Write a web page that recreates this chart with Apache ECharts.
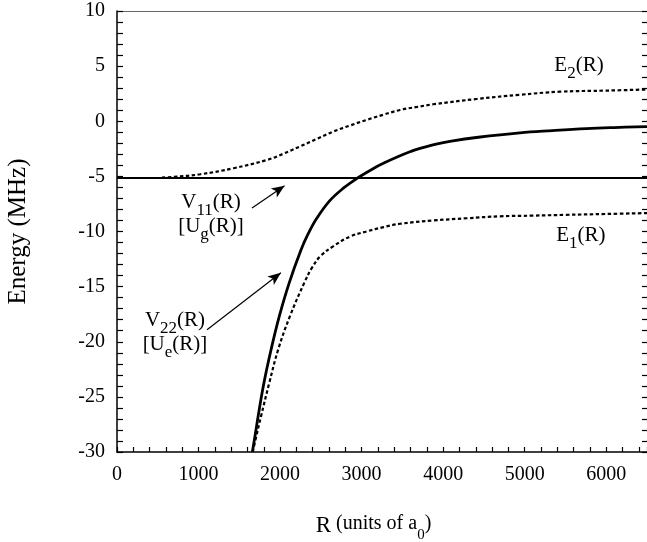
<!DOCTYPE html>
<html>
<head>
<meta charset="utf-8">
<script src="https://cdn.jsdelivr.net/npm/echarts@6/dist/echarts.min.js"></script>
<style>
  html, body { margin: 0; padding: 0; background: #fff; }
  #chart { width: 647px; height: 542px; }
</style>
</head>
<body>
<div id="chart"></div>
<script>
// Potential curves versus separation R (units of a0); energies in MHz.

// Diabatic ground-channel potential V11(R), flat
const v11R = [0, 6500];
const v11E = [-5.15, -5.15];

// Diabatic excited-channel potential V22(R)
const v22R = [1660, 1700, 1730, 1800, 1890, 1990, 2110, 2255, 2345, 2450, 2610, 2780, 2950, 3140, 3300, 3450, 3600, 3675, 3900, 4100, 4432, 4940, 5340, 5760, 6100, 6500];
const v22E = [-30, -28.2, -26.8, -23.8, -20.7, -17.7, -14.7, -11.7, -10.2, -8.8, -7.2, -6.05, -5.15, -4.3, -3.7, -3.2, -2.75, -2.55, -2.1, -1.8, -1.45, -1.05, -0.85, -0.67, -0.57, -0.48];

// Adiabatic lower curve E1(R)
const e1R = [1665, 1720, 1765, 1867, 1977, 2120, 2300, 2390, 2500, 2650, 2860, 3060, 3270, 3470, 3880, 4290, 4700, 5100, 5500, 6000, 6500];
const e1E = [-30, -28.2, -26.8, -23.75, -20.7, -17.7, -14.6, -13.3, -12.2, -11.35, -10.45, -10.0, -9.6, -9.3, -9.0, -8.8, -8.62, -8.56, -8.49, -8.41, -8.33];

// Adiabatic upper curve E2(R)
const e2R = [550, 700, 1020, 1430, 1840, 2040, 2240, 2450, 2650, 2860, 3060, 3270, 3470, 3680, 3880, 4410, 4940, 5430, 6000, 6500];
const e2E = [-5.1, -5.05, -4.81, -4.26, -3.51, -2.95, -2.3, -1.6, -0.94, -0.38, 0.12, 0.6, 1.02, 1.3, 1.54, 2.02, 2.4, 2.68, 2.78, 2.88];

// Axis ranges and labelled tick steps
const rRange = [0, 6500];
const eRange = [-30, 10];
const rLabelStep = 1000;
const eLabelStep = 5;

const zip = (xs, ys) => xs.map((x, i) => [x, ys[i]]);

const SERIF = '"Liberation Serif", "DejaVu Serif", serif';

// Rich-text styles: main glyphs plus lowered subscripts
const labelRich = {
  m: { fontFamily: SERIF, fontSize: 21, lineHeight: 24, verticalAlign: 'top', color: '#000' },
  s: { fontFamily: SERIF, fontSize: 17, lineHeight: 18, padding: [10, 0, 3, 0], verticalAlign: 'top', color: '#000' }
};

const chart = echarts.init(document.getElementById('chart'), null, { renderer: 'canvas' });

const option = {
  animation: false,
  backgroundColor: '#fff',
  grid: { left: 117, top: 11, right: 0, bottom: 90, containLabel: false, outerBoundsMode: 'none' },
  xAxis: [
    {
      type: 'value', min: rRange[0], max: rRange[1], interval: 200, position: 'bottom',
      axisLine: { show: true, onZero: false, lineStyle: { color: '#000', width: 1.5 } },
      axisTick: { show: true, inside: true, length: 5, lineStyle: { color: '#000', width: 1.2 } },
      axisLabel: {
        margin: 13, color: '#000', fontFamily: SERIF, fontSize: 20,
        formatter: v => (v % rLabelStep === 0 ? String(v) : '')
      },
      splitLine: { show: false },
      name: '{r|R}{t| (units of a}{z|0}{t|)}',
      nameLocation: 'middle',
      nameGap: 62,
      nameTextStyle: {
        padding: [0, 17, 0, 0],
        rich: {
          r: { fontFamily: SERIF, fontSize: 23, lineHeight: 26, verticalAlign: 'top', color: '#000' },
          t: { fontFamily: SERIF, fontSize: 20, lineHeight: 26, verticalAlign: 'top', color: '#000' },
          z: { fontFamily: SERIF, fontSize: 15, lineHeight: 16, padding: [14, 0, 0, 0], verticalAlign: 'top', color: '#000' }
        }
      }
    },
    {
      type: 'value', min: rRange[0], max: rRange[1], position: 'top',
      axisLine: { show: true, onZero: false, lineStyle: { color: '#666', width: 1 } },
      axisTick: { show: false }, axisLabel: { show: false }, splitLine: { show: false }
    }
  ],
  yAxis: [
    {
      type: 'value', min: eRange[0], max: eRange[1], interval: 1, position: 'left',
      axisLine: { show: true, onZero: false, lineStyle: { color: '#000', width: 1.5 } },
      axisTick: { show: true, inside: true, length: 6, lineStyle: { color: '#000', width: 1.2 } },
      axisLabel: {
        margin: 12, color: '#000', fontFamily: SERIF, fontSize: 20,
        formatter: v => (v % eLabelStep === 0 ? String(v) : '')
      },
      splitLine: { show: false },
      name: 'Energy (MHz)',
      nameLocation: 'middle',
      nameGap: 86,
      nameTextStyle: { fontFamily: SERIF, fontSize: 25, color: '#000' }
    },
    {
      type: 'value', min: eRange[0], max: eRange[1], interval: 1, position: 'right',
      axisLine: { show: false, onZero: false },
      axisTick: { show: true, inside: true, length: 5, lineStyle: { color: '#000', width: 1.2 } },
      axisLabel: { show: false }, splitLine: { show: false }
    }
  ],
  series: [
    {
      name: 'V11', type: 'line', data: zip(v11R, v11E), symbol: 'none',
      lineStyle: { color: '#000', width: 2 },
      markLine: {
        silent: true, animation: false,
        symbol: ['none', 'arrow'],
        symbolSize: 12,
        lineStyle: { color: '#000', width: 1.2, type: 'solid' },
        itemStyle: { color: '#000' },
        label: { show: false },
        data: [
          [{ coord: [1656, -7.86] }, { coord: [2055, -5.84], symbolSize: [8, 13] }],
          [{ coord: [1104, -18.92] }, { coord: [2010, -13.75], symbolSize: [8, 13] }]
        ]
      },
      markPoint: {
        silent: true, animation: false,
        symbol: 'circle', symbolSize: 0,
        itemStyle: { color: 'rgba(0,0,0,0)' },
        label: { show: true, position: 'inside', align: 'center', verticalAlign: 'middle', rich: labelRich },
        data: [
          { coord: [1153, -8.59], label: { formatter: '{m|V}{s|11}{m|(R)}\n{m|[U}{s|g}{m|(R)]}' } },
          { coord: [711, -19.28], label: { formatter: '{m|V}{s|22}{m|(R)}\n{m|[U}{s|e}{m|(R)]}' } },
          { coord: [5666, 4.88], label: { formatter: '{m|E}{s|2}{m|(R)}' } },
          { coord: [5690, -10.53], label: { formatter: '{m|E}{s|1}{m|(R)}' } }
        ]
      }
    },
    {
      name: 'V22', type: 'line', data: zip(v22R, v22E), symbol: 'none',
      smooth: 0.4,
      lineStyle: { color: '#000', width: 2.8 }
    },
    {
      name: 'E1', type: 'line', data: zip(e1R, e1E), symbol: 'none',
      smooth: 0.4,
      lineStyle: { color: '#000', width: 2.2, type: [3.5, 2.5] }
    },
    {
      name: 'E2', type: 'line', data: zip(e2R, e2E), symbol: 'none',
      smooth: 0.4,
      lineStyle: { color: '#000', width: 2.2, type: [3.5, 2.5] }
    }
  ]
};

chart.setOption(option);
</script>
</body>
</html>
